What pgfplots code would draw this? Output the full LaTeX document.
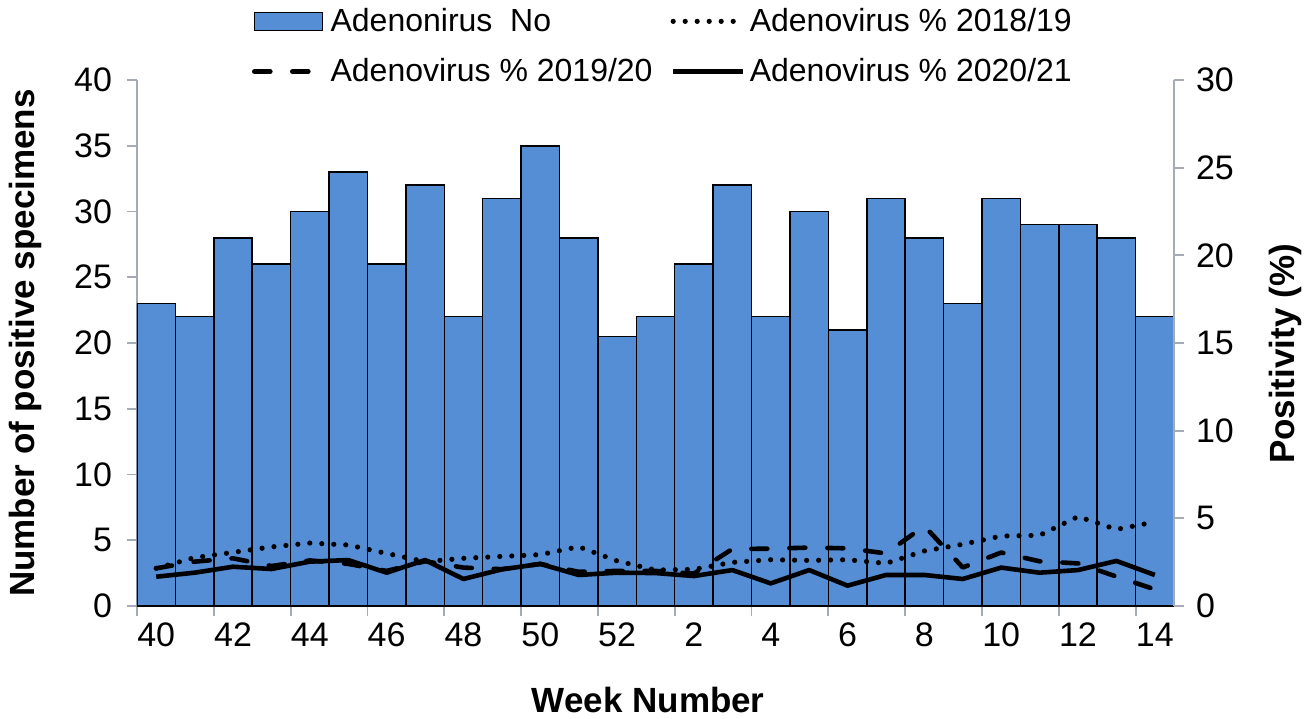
\documentclass[border=0pt]{standalone}
\usepackage{fontspec}
\setmainfont{Liberation Sans}
\usepackage{pgfplots}
\usepackage{pgfplotstable}
\pgfplotsset{compat=1.18}
\definecolor{barblue}{RGB}{85,142,213}
\definecolor{axisgray}{RGB}{165,172,182}

% week index, positive specimens, positivity (%) per season
\pgfplotstableread{
wk cnt p1819 p1920 p2021
0 23 2.15 2.15 1.67
1 22 2.76 2.53 1.90
2 28 3.06 2.72 2.24
3 26 3.37 2.28 2.11
4 30 3.59 2.60 2.53
5 33 3.48 2.40 2.62
6 26 3.00 2.00 1.90
7 32 2.53 2.55 2.62
8 22 2.72 2.19 1.54
9 31 2.83 2.10 2.09
10 35 2.93 2.40 2.40
11 28 3.38 1.95 1.77
12 20.5 2.57 2.00 1.90
13 22 2.05 2.00 1.88
14 26 2.09 1.85 1.71
15 32 2.49 3.25 2.05
16 22 2.64 3.27 1.29
17 30 2.60 3.33 2.05
18 21 2.64 3.29 1.16
19 31 2.43 3.00 1.77
20 28 3.14 4.56 1.77
21 23 3.52 2.20 1.54
22 31 3.99 3.05 2.19
23 29 4.03 2.55 1.90
24 29 5.10 2.43 2.05
25 28 4.37 1.68 2.57
26 22 4.79 0.95 1.77
}\adenodata

\pgfplotsset{
  common/.style={
    scale only axis, width=518.5pt, height=263pt,
    at={(0,0)}, anchor=south west,
    xmin=-0.5, xmax=26.5,
    axis line style={draw=axisgray, line width=0.9pt},
    tick align=outside, major tick length=5pt,
    tick style={draw=axisgray, line width=0.9pt},
    /pgf/number format/assume math mode=true,
  },
  lineimg/.style={legend image code/.code={\draw[##1] (0pt,0pt) -- (35pt,0pt);}},
  barimg/.style={legend image code/.code={\draw[##1] (0pt,-4.5pt) rectangle (34pt,4.5pt);}},
}

\begin{document}
\begin{tikzpicture}[font=\fontsize{17}{20}\selectfont]
\path[use as bounding box] (-68.5pt,-56pt) rectangle (586pt,303pt);

\begin{axis}[common,
  ymin=0, ymax=40, ytick={0,5,...,40},
  yticklabel style={xshift=-4pt},
  axis x line*=bottom, axis y line*=left,
  xtick={-0.5,1.5,...,25.5},
  xticklabels={40,42,44,46,48,50,52,2,4,6,8,10,12,14},
  xticklabel style={xshift=9.6pt},
  xlabel={Week Number},
  ylabel={Number of positive specimens},
  every axis x label/.style={at={(axis description cs:0.493,-0.1787)}, anchor=center, font=\fontsize{17.5}{20}\selectfont\bfseries},
  every axis y label/.style={at={(axis description cs:-0.108,0.5)}, rotate=90, anchor=center, font=\fontsize{17.5}{20}\selectfont\bfseries},
]
\addplot[ybar, bar width=1, fill=barblue, draw=black, line width=0.75pt]
  table[x=wk, y=cnt] {\adenodata};
\end{axis}

\begin{axis}[common,
  ymin=0, ymax=30, ytick={0,5,...,30},
  yticklabel style={xshift=2.5pt},
  axis y line*=right, axis x line=none,
  ylabel={Positivity (\%)},
  every axis y label/.style={at={(axis description cs:1.107,0.479)}, rotate=90, anchor=center, font=\fontsize{17.5}{20}\selectfont\bfseries},
  legend columns=2,
  legend cell align=left,
  legend style={draw=none, fill=none, inner sep=0pt, outer sep=0pt,
    at={(0.1109,1.1440)}, anchor=north west, row sep=8pt,
    font=\fontsize{16}{19}\selectfont,
    nodes={inner sep=2pt},
    /tikz/every even column/.append style={column sep=7pt}},
]
\addlegendimage{barimg, fill=barblue, draw=black, line width=0.75pt}
\addlegendentry{Adenonirus\ \ No}
\addplot[lineimg, black, line width=2.6pt, line cap=round, line join=round, dash pattern=on 0pt off 6pt]
  table[x=wk, y=p1819] {\adenodata};
\addlegendentry{Adenovirus \% 2018/19}
\addplot[lineimg, black, line width=2.3pt, line cap=round, line join=round, dash pattern=on 8pt off 11pt]
  table[x=wk, y=p1920] {\adenodata};
\addlegendentry{Adenovirus \% 2019/20}
\addplot[lineimg, black, line width=2.3pt, line join=round]
  table[x=wk, y=p2021] {\adenodata};
\addlegendentry{Adenovirus \% 2020/21}
\end{axis}
\end{tikzpicture}
\end{document}
